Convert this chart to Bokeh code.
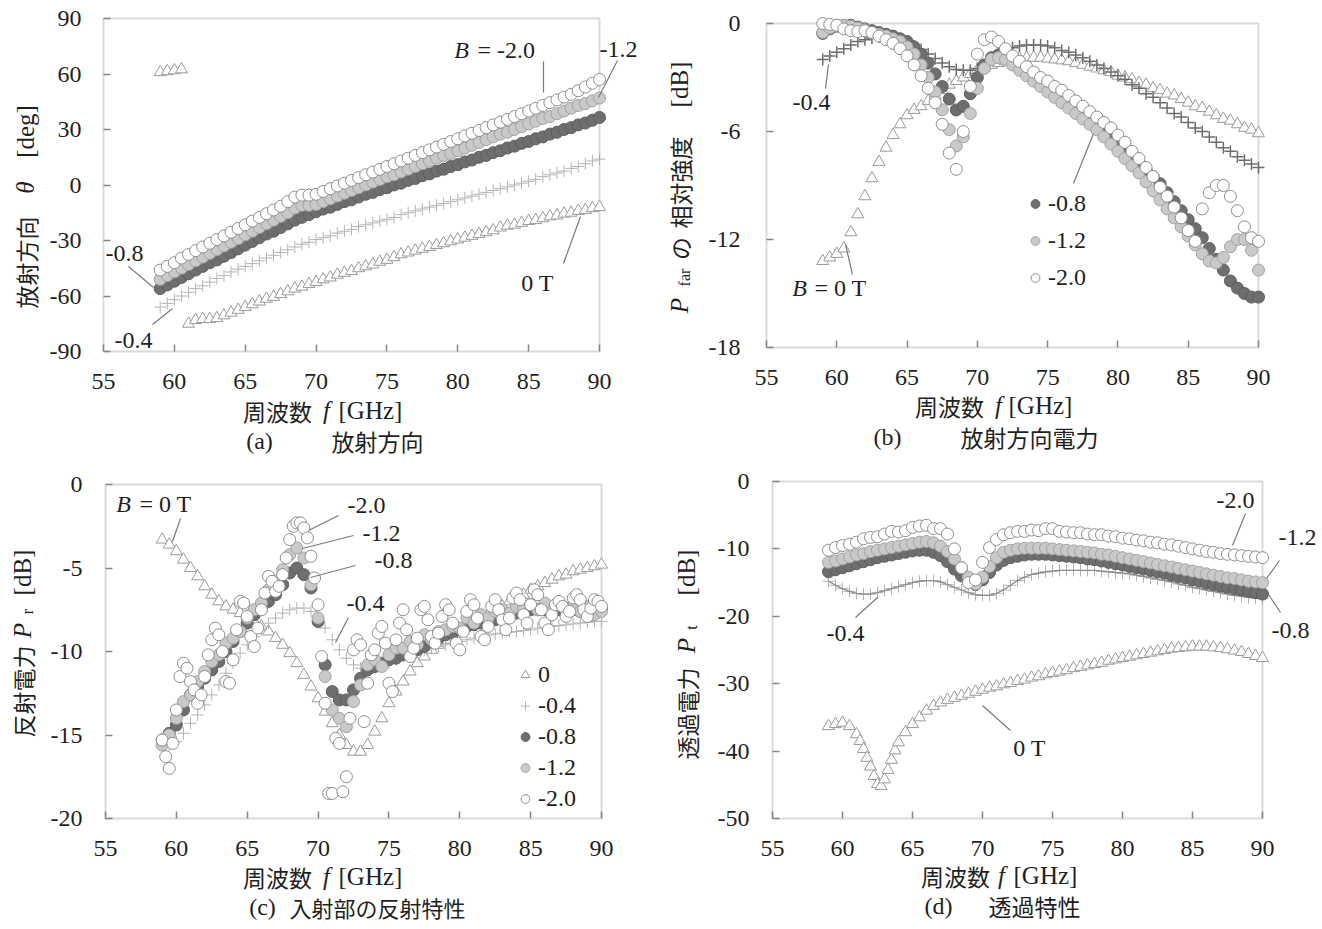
from bokeh.plotting import figure
from bokeh.layouts import column, row
from bokeh.models import (Range1d, FixedTicker, Label, Arrow, Legend, LegendItem,
                          CustomJSTickFormatter, BoxAnnotation)
from bokeh.embed import file_html
from bokeh.resources import INLINE

# ---------------- data ----------------
F05 = [59.0, 59.5, 60.0, 60.5, 61.0, 61.5, 62.0, 62.5, 63.0, 63.5,
       64.0, 64.5, 65.0, 65.5, 66.0, 66.5, 67.0, 67.5, 68.0, 68.5,
       69.0, 69.5, 70.0, 70.5, 71.0, 71.5, 72.0, 72.5, 73.0, 73.5,
       74.0, 74.5, 75.0, 75.5, 76.0, 76.5, 77.0, 77.5, 78.0, 78.5,
       79.0, 79.5, 80.0, 80.5, 81.0, 81.5, 82.0, 82.5, 83.0, 83.5,
       84.0, 84.5, 85.0, 85.5, 86.0, 86.5, 87.0, 87.5, 88.0, 88.5,
       89.0, 89.5, 90.0]

# (a) radiation direction theta [deg]
A_0 = [61, 61.5, 62, 62.5, -75, -73, -72.5, -72.5, -72, -70.5,
       -69, -67.5, -66, -64.5, -63, -61.5, -60.5, -59, -57.5, -56,
       -55, -53.5, -52.5, -51, -50, -48.5, -47.5, -46.5, -45, -44,
       -43, -41.5, -40.5, -39, -37.5, -36.5, -35.5, -34.5, -33.5, -32.5,
       -31.5, -30.5, -29.5, -28.5, -27.5, -26.5, -25.5, -24.5, -23, -22,
       -21.5, -20.5, -19.5, -19, -18, -17, -16.5, -15.5, -15, -14,
       -13.5, -12.5, -12]
A_04 = [-66, -64, -62, -60, -58, -56, -54.5, -52.5, -50.5, -49,
        -47, -45.5, -44, -42.5, -41, -39.5, -38, -36.5, -35, -33.5,
        -32, -31, -29.5, -28.5, -27.5, -26, -25, -24, -22.5, -21.5,
        -20.5, -19.5, -18.5, -17.5, -16, -15, -14, -13, -12, -11,
        -10, -9, -8, -7, -6, -5, -4, -3, -2, -1,
        0, 1, 2, 3, 4.5, 5.5, 6.5, 7.5, 9, 10,
        11.5, 13, 14]
A_08 = [-56, -54, -52, -50, -48, -46, -44, -42, -40.5, -38.5,
        -36.5, -34.5, -32.5, -30.5, -28.5, -26.5, -25, -23, -21, -19,
        -17.5, -16, -14.5, -13, -12, -10.5, -9, -8, -6.5, -5,
        -4, -2.5, -1.5, 0, 1, 2.5, 3.5, 5, 6, 7.5,
        8.5, 10, 11, 12.5, 13.5, 15, 16, 17.5, 18.5, 20,
        21, 22.5, 23.5, 25, 26, 27.5, 28.5, 30, 31, 32.5,
        33.5, 35, 36.5]
A_12 = [-51, -49, -47, -45, -43, -41, -39, -37, -35, -33,
        -31, -29, -27, -25, -23, -21, -19, -17, -15, -12.5,
        -11, -11, -10.5, -9, -7.5, -6, -4.5, -3, -1.5, 0,
        1.5, 3, 4.5, 5.5, 7, 8.5, 10, 11.5, 13, 14.5,
        16, 17, 18.5, 20, 21.5, 23, 24.5, 26, 27.5, 28.5,
        30, 31.5, 33, 34.5, 36, 37, 38.5, 40, 41.5, 43,
        44, 45.5, 47]
A_20 = [-46, -44, -42, -39.5, -37.5, -35.5, -33.5, -31.5, -29.5, -27.5,
        -25.5, -23.5, -21.5, -19.5, -17.5, -15.5, -13.5, -11.5, -9, -6.5,
        -5.5, -5.5, -5, -3.5, -2, -0.5, 1, 2.5, 4, 5.5,
        7, 8.5, 10, 11.5, 13, 14.5, 16, 17.5, 19, 20.5,
        22, 23.5, 25, 26.5, 28, 29.5, 31, 32.5, 34, 35.5,
        37, 38.5, 40, 41.5, 43, 44.5, 46, 47.5, 49, 51,
        53, 55, 57]

# (b) relative power in radiation direction [dB]
B_0 = [-13.2, -13.0, -12.8, -12.5, -11.6, -10.6, -9.6, -8.6, -7.7, -6.9,
       -6.2, -5.6, -5.1, -4.8, -4.6, -4.3, -4.0, -3.7, -3.4, -3.2,
       -3.0, -2.8, -2.6, -2.4, -2.3, -2.2, -2.1, -2.0, -1.95, -1.9,
       -1.9, -1.9, -1.95, -2.0, -2.05, -2.1, -2.2, -2.3, -2.4, -2.5,
       -2.6, -2.7, -2.9, -3.0, -3.1, -3.3, -3.4, -3.6, -3.7, -3.9,
       -4.0, -4.2, -4.4, -4.6, -4.7, -4.9, -5.1, -5.3, -5.4, -5.6,
       -5.8, -5.9, -6.1]
B_04 = [-2.0, -1.8, -1.6, -1.4, -1.2, -1.0, -0.9, -0.8, -0.75, -0.75,
        -0.8, -0.9, -1.05, -1.25, -1.45, -1.7, -1.95, -2.2, -2.4, -2.55,
        -2.6, -2.6, -2.5, -2.3, -2.0, -1.7, -1.5, -1.35, -1.25, -1.2,
        -1.2, -1.2, -1.25, -1.35, -1.5, -1.6, -1.75, -1.9, -2.1, -2.3,
        -2.5, -2.7, -2.9, -3.1, -3.4, -3.6, -3.9, -4.1, -4.4, -4.7,
        -5.0, -5.2, -5.5, -5.8, -6.0, -6.3, -6.6, -6.9, -7.1, -7.4,
        -7.6, -7.8, -8.0]
B_08 = [-0.55, -0.3, -0.15, -0.1, -0.1, -0.2, -0.3, -0.4, -0.5, -0.6,
        -0.7, -0.85, -1.0, -1.3, -1.7, -2.2, -2.8, -3.5, -4.2, -4.8,
        -4.6, -3.9, -3.0, -2.3, -1.9, -1.75, -1.8, -2.0, -2.3, -2.6,
        -2.9, -3.1, -3.4, -3.7, -4.0, -4.3, -4.6, -4.9, -5.2, -5.5,
        -5.8, -6.1, -6.5, -6.9, -7.3, -7.7, -8.1, -8.5, -8.9, -9.4,
        -9.9, -10.4, -10.9, -11.4, -11.9, -12.5, -13.1, -13.7, -14.3, -14.7,
        -15.0, -15.2, -15.2]
B_12 = [-0.5, -0.25, -0.1, -0.1, -0.15, -0.25, -0.35, -0.5, -0.6, -0.7,
        -0.85, -1.0, -1.3, -1.7, -2.3, -3.0, -3.8, -4.8, -5.9, -6.8,
        -6.3, -5.0, -3.6, -2.5, -2.0, -1.9, -2.0, -2.3, -2.6, -2.9,
        -3.2, -3.5, -3.8, -4.1, -4.4, -4.7, -5.0, -5.3, -5.6, -5.9,
        -6.3, -6.7, -7.1, -7.5, -7.9, -8.3, -8.8, -9.3, -9.8, -10.3,
        -10.8, -11.3, -11.8, -12.3, -12.8, -13.2, -13.3, -13.0, -12.4, -12.0,
        -12.0, -12.6, -13.7]
B_20 = [0.0, -0.05, -0.1, -0.3, -0.4, -0.45, -0.4, -0.5, -0.7, -0.9,
        -1.1, -1.4, -1.8, -2.3, -2.9, -3.6, -4.4, -5.6, -7.2, -8.1,
        -6.0, -3.5, -1.7, -0.9, -0.75, -1.0, -1.4, -1.8, -2.1, -2.4,
        -2.7, -3.0, -3.2, -3.5, -3.7, -4.0, -4.3, -4.6, -4.9, -5.2,
        -5.5, -5.8, -6.2, -6.6, -7.1, -7.5, -8.0, -8.5, -9.1, -9.6,
        -10.2, -10.8, -11.5, -12.1, -10.3, -9.4, -9.0, -9.0, -9.6, -10.4,
        -11.3, -11.9, -12.1]

# (c) reflected power Pr [dB]
C_0 = [-3.3, -3.6, -4.0, -4.5, -5.0, -5.5, -6.1, -6.6, -7.0, -7.3,
       -7.5, -7.7, -7.9, -8.2, -8.5, -8.8, -9.2, -9.6, -10.1, -10.7,
       -11.4, -12.1, -12.8, -13.6, -14.3, -15.0, -15.6, -16.0, -16.0, -15.6,
       -14.8, -14.0, -13.1, -12.4, -11.8, -11.2, -10.7, -10.3, -9.9, -9.6,
       -9.3, -9.0, -8.8, -8.5, -8.3, -8.0, -7.8, -7.5, -7.3, -7.0,
       -6.8, -6.6, -6.3, -6.1, -5.9, -5.7, -5.5, -5.4, -5.2, -5.1,
       -5.0, -4.9, -4.8]
C_04 = [-15.7, -15.6, -15.4, -14.9, -14.3, -13.8, -13.2, -12.6, -12.0, -11.3,
        -10.7, -10.1, -9.6, -9.1, -8.7, -8.3, -8.0, -7.7, -7.5, -7.4,
        -7.4, -7.6, -8.0, -8.6, -9.3, -9.9, -10.4, -10.8, -11.0, -11.1,
        -11.0, -10.9, -10.7, -10.5, -10.3, -10.2, -10.0, -9.9, -9.8, -9.7,
        -9.6, -9.5, -9.4, -9.3, -9.2, -9.1, -9.0, -8.95, -8.9, -8.85,
        -8.8, -8.75, -8.7, -8.6, -8.55, -8.5, -8.45, -8.4, -8.35, -8.3,
        -8.25, -8.2, -8.2]
C_08 = [-15.3, -14.9, -14.4, -13.5, -12.6, -12.1, -11.6, -11.1, -10.6, -10.0,
        -9.4, -8.8, -8.3, -7.8, -7.4, -7.0, -6.6, -6.0, -5.3, -5.0,
        -5.4, -6.2, -8.2, -10.8, -12.4, -12.9, -12.9, -12.3, -11.6, -11.1,
        -10.9, -10.7, -10.5, -10.4, -10.2, -10.0, -9.9, -9.7, -9.4, -9.2,
        -9.0, -8.9, -8.7, -8.5, -8.4, -8.3, -8.2, -8.1, -8.0, -7.9,
        -7.7, -7.6, -7.5, -7.5, -7.5, -7.4, -7.5, -7.4, -7.5, -7.6,
        -7.5, -7.5, -7.4]
C_12 = [-15.6, -15.0, -14.0, -13.0, -12.6, -11.8, -11.2, -10.6, -10.2, -9.5,
        -9.2, -8.8, -8.0, -7.5, -7.1, -6.3, -5.8, -5.1, -4.2, -3.8,
        -4.4, -6.0, -8.0, -11.5, -13.5, -14.0, -14.5, -13.0, -12.0, -10.8,
        -10.5, -10.9, -10.2, -9.8, -9.8, -9.4, -9.6, -9.0, -9.3, -8.8,
        -8.7, -8.5, -8.6, -8.0, -8.3, -7.8, -8.0, -7.6, -7.5, -7.7,
        -7.3, -7.4, -7.2, -7.5, -7.1, -7.6, -7.2, -7.5, -7.3, -7.6,
        -7.3, -7.8, -7.6]
C20_F = [59.0, 59.25, 59.5, 59.75,  60.0, 60.25, 60.5, 60.75,
         61.0, 61.25, 61.5, 61.75,  62.0, 62.25, 62.5, 62.75,
         63.0, 63.25, 63.5, 63.75,  64.0, 64.25, 64.5, 64.75,
         65.0, 65.25, 65.5, 65.75,  66.0, 66.25, 66.5, 66.75,
         67.0, 67.25, 67.5, 67.75,  68.0, 68.25, 68.5, 68.75,
         69.0, 69.25, 69.5, 69.75,  70.0, 70.25, 70.5, 70.75,
         71.0, 71.25, 71.5, 71.75,  72.0, 72.25, 72.5, 72.75,
         73.0, 73.25, 73.5, 73.75,  74.0, 74.25, 74.5, 74.75,
         75.0, 75.25, 75.5, 75.75,  76.0, 76.25, 76.5, 76.75,
         77.0, 77.25, 77.5, 77.75,  78.0, 78.25, 78.5, 78.75,
         79.0, 79.25, 79.5, 79.75,  80.0, 80.25, 80.5, 80.75,
         81.0, 81.25, 81.5, 81.75,  82.0, 82.25, 82.5, 82.75,
         83.0, 83.25, 83.5, 83.75,  84.0, 84.25, 84.5, 84.75,
         85.0, 85.25, 85.5, 85.75,  86.0, 86.25, 86.5, 86.75,
         87.0, 87.25, 87.5, 87.75,  88.0, 88.25, 88.5, 88.75,
         89.0, 89.25, 89.5, 89.75,  90.0]
C_20 = [-15.3, -16.3, -17.0, -15.5,  -13.5, -11.5, -10.7, -11.0,
        -11.8, -12.3, -13.1, -12.6,  -11.5, -10.2, -9.3, -8.6,
        -9.0, -10.0, -11.8, -11.9,  -10.5, -8.7, -7.0, -7.1,
        -7.9, -9.1, -9.7, -8.6,  -7.5, -6.5, -5.5, -5.8,
        -6.4, -6.1, -5.4, -4.4,  -3.3, -2.5, -2.3, -2.3,
        -2.6, -3.2, -4.3, -5.6,  -7.2, -10.3, -13.1, -18.5,
        -18.5, -15.2, -15.5, -18.4,  -17.5, -14.0, -9.9, -9.3,
        -9.6, -14.2, -11.9, -10.2,  -9.9, -8.9, -8.5, -9.5,
        -11.9, -12.4, -9.3, -8.3,  -7.5, -8.7, -10.3, -9.8,
        -9.2, -7.5, -7.3, -8.1,  -9.1, -9.5, -8.9, -7.9,
        -7.2, -7.5, -8.3, -9.5,  -9.9, -8.8, -7.6, -6.9,
        -7.2, -8.0, -9.1, -9.3,  -8.5, -7.3, -6.9, -7.5,
        -8.1, -8.7, -8.0, -6.8,  -6.5, -6.9, -7.8, -8.3,
        -7.2, -6.3, -6.6, -7.5,  -8.3, -8.7, -7.8, -7.2,
        -7.0, -7.3, -7.9, -7.6,  -6.8, -6.6, -6.9, -7.5,
        -7.9, -7.4, -6.9, -7.0,  -7.3]

# (d) transmitted power Pt [dB]
D0_F = [59.0, 59.5, 60.0, 60.5, 61.0, 61.25, 61.5, 61.75, 62.0, 62.25,
        62.5, 62.75, 63.0, 63.25, 63.5, 63.75, 64.0, 64.5, 65.0, 65.5,
        66.0, 66.5, 67.0, 67.5, 68.0, 68.5, 69.0, 69.5, 70.0, 70.5,
        71.0, 71.5, 72.0, 72.5, 73.0, 73.5, 74.0, 74.5, 75.0, 75.5,
        76.0, 76.5, 77.0, 77.5, 78.0, 78.5, 79.0, 79.5, 80.0, 80.5,
        81.0, 81.5, 82.0, 82.5, 83.0, 83.5, 84.0, 84.5, 85.0, 85.5,
        86.0, 86.5, 87.0, 87.5, 88.0, 88.5, 89.0, 89.5, 90.0]
D_0 = [-36.3, -36.0, -35.8, -36.3, -37.5, -38.5, -39.7, -41.0, -42.3, -43.7,
       -44.9, -45.2, -44.2, -42.8, -41.3, -39.9, -38.7, -37.2, -36.0, -35.0,
       -34.0, -33.3, -32.8, -32.4, -32.1, -31.8, -31.5, -31.2, -30.9, -30.6,
       -30.4, -30.1, -29.9, -29.6, -29.4, -29.1, -28.9, -28.6, -28.4, -28.2,
       -28.0, -27.7, -27.5, -27.3, -27.1, -26.9, -26.6, -26.4, -26.2, -26.0,
       -25.8, -25.6, -25.4, -25.2, -25.0, -24.8, -24.7, -24.6, -24.5, -24.5,
       -24.5, -24.6, -24.7, -24.9, -25.1, -25.3, -25.6, -25.9, -26.2]
D_04 = [-14.8, -15.4, -15.9, -16.3, -16.6, -16.7, -16.7, -16.5, -16.2, -15.9,
        -15.6, -15.3, -15.0, -14.8, -14.7, -14.7, -14.9, -15.3, -15.7, -16.1,
        -16.5, -16.8, -16.9, -16.9, -16.6, -16.1, -15.4, -14.7, -14.2, -13.8,
        -13.6, -13.4, -13.3, -13.2, -13.2, -13.2, -13.2, -13.2, -13.2, -13.3,
        -13.4, -13.5, -13.6, -13.7, -13.9, -14.1, -14.3, -14.5, -14.7, -14.9,
        -15.2, -15.4, -15.7, -15.9, -16.1, -16.3, -16.5, -16.7, -16.9, -17.0,
        -17.2, -17.3, -17.4]
D_08 = [-13.4, -13.1, -12.8, -12.5, -12.2, -11.9, -11.6, -11.3, -11.1, -10.9,
        -10.7, -10.5, -10.3, -10.2, -10.2, -10.5, -11.0, -11.9, -13.0, -14.0,
        -14.9, -15.3, -14.6, -13.5, -12.4, -11.7, -11.3, -11.1, -10.9, -10.8,
        -10.8, -10.8, -10.9, -11.0, -11.1, -11.2, -11.3, -11.5, -11.6, -11.8,
        -12.0, -12.2, -12.4, -12.6, -12.8, -13.0, -13.2, -13.4, -13.6, -13.9,
        -14.1, -14.3, -14.6, -14.8, -15.1, -15.3, -15.5, -15.7, -15.9, -16.1,
        -16.3, -16.5, -16.7]
D_12 = [-12.0, -11.8, -11.5, -11.2, -10.9, -10.7, -10.4, -10.2, -10.0, -9.8,
        -9.6, -9.4, -9.2, -9.0, -8.9, -9.1, -9.6, -10.4, -11.5, -12.8,
        -14.2, -15.2, -14.2, -12.6, -11.3, -10.5, -10.2, -10.0, -9.9, -9.9,
        -9.9, -9.9, -10.0, -10.1, -10.2, -10.3, -10.4, -10.5, -10.6, -10.8,
        -10.9, -11.1, -11.3, -11.5, -11.7, -11.9, -12.1, -12.3, -12.5, -12.7,
        -12.9, -13.1, -13.3, -13.5, -13.7, -13.9, -14.1, -14.3, -14.4, -14.6,
        -14.8, -14.9, -15.0]
D_20 = [-10.2, -9.8, -9.5, -9.3, -9.0, -8.5, -8.3, -8.2, -7.8, -7.4,
        -7.5, -7.3, -6.8, -6.6, -6.5, -7.0, -7.0, -7.8, -10.0, -12.8,
        -15.0, -14.6, -12.0, -9.8, -8.6, -7.9, -7.6, -7.4, -7.4, -7.2,
        -7.3, -7.0, -7.0, -7.4, -7.5, -7.6, -7.6, -7.8, -7.9, -7.9,
        -8.1, -8.2, -8.4, -8.5, -8.7, -8.8, -9.0, -9.1, -9.3, -9.4,
        -9.6, -9.8, -10.0, -10.2, -10.4, -10.5, -10.7, -10.8, -10.9, -11.0,
        -11.1, -11.2, -11.3]

X_TICKS = [55, 60, 65, 70, 75, 80, 85, 90]
A_TICKS = [-90, -60, -30, 0, 30, 60, 90]
B_TICKS = [-18, -12, -6, 0]
C_TICKS = [-20, -15, -10, -5, 0]
D_TICKS = [-50, -40, -30, -20, -10, 0]
LEG_B = ["-0.8", "-1.2", "-2.0"]
LEG_C = ["0", "-0.4", "-0.8", "-1.2", "-2.0"]

# ---------------- styling ----------------
SERIF = "Liberation Serif"
CJK = "Noto Sans CJK JP"
TXT = "#1f1f1f"
FRAME = "#868686"
LEAD = "#7a7a7a"


def make_fig(s):
    """Figure whose frame fills the whole canvas; the plot box (55..90 x y0..y1)
    sits inside it at the reference position, axes fixed at its edges."""
    L, R, T, B = s["L"], s["R"], s["T"], s["B"]
    ox, oy, w, h = s["ox"], s["oy"], s["w"], s["h"]
    kx = 35.0 / (R - L)
    ky = (s["y1"] - s["y0"]) / (B - T)
    xr = Range1d(55 - (L - ox) * kx, 90 + (ox + w - R) * kx)
    yr = Range1d(s["y0"] - (oy + h - B) * ky, s["y1"] + (T - oy) * ky)
    p = figure(width=w, height=h, x_range=xr, y_range=yr, output_backend="svg",
               toolbar_location=None, title=None, min_border=0,
               min_border_left=0, min_border_right=0, min_border_top=0,
               min_border_bottom=0)
    p.grid.visible = False
    p.outline_line_color = None
    p.background_fill_color = "white"
    p.border_fill_color = "white"
    p.add_layout(BoxAnnotation(left=55, right=90, bottom=s["y0"], top=s["y1"],
                               fill_color=None, fill_alpha=0, line_color=FRAME,
                               line_width=2, level="underlay"))
    xa, ya = p.xaxis[0], p.yaxis[0]
    xa.fixed_location = s["y0"]
    ya.fixed_location = 55
    xa.ticker = FixedTicker(ticks=X_TICKS)
    ya.ticker = FixedTicker(ticks=s["ticks"])
    for ax in (xa, ya):
        ax.formatter = CustomJSTickFormatter(code="return String(tick)")
        ax.axis_line_color = None
        ax.major_tick_in = 7
        ax.major_tick_out = 0
        ax.major_tick_line_color = FRAME
        ax.major_tick_line_width = 1.5
        ax.minor_tick_line_color = None
        ax.major_label_text_font = SERIF
        ax.major_label_text_font_size = "24px"
        ax.major_label_text_color = TXT
    xa.major_label_standoff = 22
    ya.major_label_standoff = s["ystand"]
    return p


def to_data(s, X, Y):
    L, R, T, B = s["L"], s["R"], s["T"], s["B"]
    x = 55 + (X - L) / (R - L) * 35.0
    y = s["y1"] - (Y - T) / (B - T) * (s["y1"] - s["y0"])
    return x, y


def lab(p, s, X, Y, text, size=24, font=SERIF, style="normal", align="center",
        angle=0):
    x, y = to_data(s, X, Y)
    p.add_layout(Label(x=x, y=y, text=text, text_font=font,
                       text_font_size=f"{size}px", text_font_style=style,
                       text_align=align, text_baseline="middle", angle=angle,
                       angle_units="deg", text_color=TXT))


def lead(p, s, X1, Y1, X2, Y2):
    x1, y1 = to_data(s, X1, Y1)
    x2, y2 = to_data(s, X2, Y2)
    p.add_layout(Arrow(end=None, x_start=x1, y_start=y1, x_end=x2, y_end=y2,
                       line_color=LEAD, line_width=1.2))


def draw(p, f, v, kind, cross_color="#b3b3b3", cross_width=1.0):
    if kind == "0":
        return p.scatter(f, v, marker="triangle", size=12, fill_color="white",
                         line_color="#9a9a9a", line_width=1)
    if kind == "-0.4":
        return p.scatter(f, v, marker="cross", size=12, line_color=cross_color,
                         line_width=cross_width)
    if kind == "-0.8":
        return p.scatter(f, v, marker="circle", size=12, fill_color="#6e6e6e",
                         line_color="#5e5e5e", line_width=1)
    if kind == "-1.2":
        return p.scatter(f, v, marker="circle", size=12, fill_color="#c9c9c9",
                         line_color="#a3a3a3", line_width=1)
    return p.scatter(f, v, marker="circle", size=12, fill_color="white",
                     line_color="#8e8e8e", line_width=1)


def xtitle(p, s, Y, xs):
    lab(p, s, xs[0], Y, "周波数", size=23, font=CJK)
    lab(p, s, xs[1], Y, "f", size=25, style="italic")
    lab(p, s, xs[2], Y, "[GHz]", size=25, align="left")


def make_legend(items, loc, spacing):
    return Legend(items=items, location=loc, orientation="vertical",
                  glyph_width=22, glyph_height=25, label_height=25,
                  label_standoff=2, padding=0, margin=0, spacing=spacing,
                  border_line_color=None, background_fill_alpha=0,
                  label_text_font=SERIF, label_text_font_size="24px",
                  label_text_color=TXT)


SA = dict(w=661, h=460, ox=0, oy=0, L=103, R=599, T=18, B=351,
          y0=-90, y1=90, ticks=A_TICKS, ystand=22)
SB = dict(w=661, h=460, ox=661, oy=0, L=766, R=1258, T=23, B=347,
          y0=-18, y1=0, ticks=B_TICKS, ystand=26)
SC = dict(w=661, h=469, ox=0, oy=460, L=105, R=601, T=484, B=818,
          y0=-20, y1=0, ticks=C_TICKS, ystand=23)
SD = dict(w=661, h=469, ox=661, oy=460, L=772, R=1262, T=481, B=818,
          y0=-50, y1=0, ticks=D_TICKS, ystand=23)

# ---------------- (a) ----------------
pa = make_fig(SA)
draw(pa, F05, A_0, "0")
draw(pa, F05, A_04, "-0.4")
draw(pa, F05, A_08, "-0.8")
draw(pa, F05, A_12, "-1.2")
draw(pa, F05, A_20, "-2.0")
lab(pa, SA, 461, 49, "B", style="italic")
lab(pa, SA, 477, 49, "=  -2.0", align="left")
lead(pa, SA, 543, 61, 543, 92)
lab(pa, SA, 618, 49, "-1.2")
lead(pa, SA, 617, 60, 598, 97)
lab(pa, SA, 124, 253, "-0.8")
lead(pa, SA, 128, 266, 153, 287)
lab(pa, SA, 133, 340, "-0.4")
lead(pa, SA, 152, 324, 172, 308)
lab(pa, SA, 540, 282, "0  T")
lead(pa, SA, 563, 263, 580, 216)
xtitle(pa, SA, 410, (277, 326, 338))
lab(pa, SA, 259, 440, "(a)", size=24)
lab(pa, SA, 377, 440, "放射方向", size=23, font=CJK)
lab(pa, SA, 25, 262, "放射方向", size=23, font=CJK, angle=90)
lab(pa, SA, 25, 187, "θ", size=25, style="italic", angle=90)
lab(pa, SA, 25, 131, "[deg]", size=25, angle=90)

# ---------------- (b) ----------------
pb = make_fig(SB)
draw(pb, F05, B_0, "0")
draw(pb, F05, B_04, "-0.4", cross_color="#6c6c6c", cross_width=1.5)
rb08 = draw(pb, F05, B_08, "-0.8")
rb12 = draw(pb, F05, B_12, "-1.2")
rb20 = draw(pb, F05, B_20, "-2.0")
pb.add_layout(make_legend([LegendItem(label=LEG_B[0], renderers=[rb08]),
                           LegendItem(label=LEG_B[1], renderers=[rb12]),
                           LegendItem(label=LEG_B[2], renderers=[rb20])],
                          (1035 - 11 - 661, 460 - 290.5), 10))
lab(pb, SB, 811, 102, "-0.4")
lead(pb, SB, 825, 88, 828, 64)
lab(pb, SB, 799, 287, "B", style="italic")
lab(pb, SB, 814, 287, "=  0  T", align="left")
lead(pb, SB, 852, 274, 845, 244)
lead(pb, SB, 1073, 183, 1093, 133)
xtitle(pb, SB, 405, (949, 998, 1008))
lab(pb, SB, 887, 436, "(b)", size=24)
lab(pb, SB, 1029, 436, "放射方向電力", size=23, font=CJK)
lab(pb, SB, 679, 305, "P", size=25, style="italic", angle=90)
lab(pb, SB, 684, 277, "far", size=16, angle=90)
lab(pb, SB, 679, 248, "の", size=23, font=CJK, angle=90)
lab(pb, SB, 679, 182, "相対強度", size=23, font=CJK, angle=90)
lab(pb, SB, 679, 84, "[dB]", size=25, angle=90)

# ---------------- (c) ----------------
pc = make_fig(SC)
rc0 = draw(pc, F05, C_0, "0")
rc04 = draw(pc, F05, C_04, "-0.4")
rc08 = draw(pc, F05, C_08, "-0.8")
rc12 = draw(pc, F05, C_12, "-1.2")
rc20 = draw(pc, C20_F, C_20, "-2.0")
pc.add_layout(make_legend([LegendItem(label=LEG_C[0], renderers=[rc0]),
                           LegendItem(label=LEG_C[1], renderers=[rc04]),
                           LegendItem(label=LEG_C[2], renderers=[rc08]),
                           LegendItem(label=LEG_C[3], renderers=[rc12]),
                           LegendItem(label=LEG_C[4], renderers=[rc20])],
                          (525 - 11, 929 - 811.5), 4))
lab(pc, SC, 123, 503, "B", style="italic")
lab(pc, SC, 139, 503, "=  0  T", align="left")
lead(pc, SC, 180, 518, 172, 541)
lab(pc, SC, 366, 505, "-2.0")
lead(pc, SC, 338, 515, 308, 530)
lab(pc, SC, 381, 533, "-1.2")
lead(pc, SC, 353, 535, 302, 548)
lab(pc, SC, 393, 560, "-0.8")
lead(pc, SC, 355, 565, 310, 577)
lab(pc, SC, 365, 603, "-0.4")
lead(pc, SC, 348, 617, 335, 642)
xtitle(pc, SC, 876, (277, 326, 338))
lab(pc, SC, 262, 906, "(c)", size=24)
lab(pc, SC, 377, 906, "入射部の反射特性", size=22, font=CJK)
lab(pc, SC, 22, 691, "反射電力", size=23, font=CJK, angle=90)
lab(pc, SC, 22, 630, "P", size=25, style="italic", angle=90)
lab(pc, SC, 27, 611, "r", size=16, angle=90)
lab(pc, SC, 22, 572, "[dB]", size=25, angle=90)

# ---------------- (d) ----------------
pd = make_fig(SD)
draw(pd, D0_F, D_0, "0")
draw(pd, F05, D_04, "-0.4")
pd.line(F05, D_04, line_color="#8a8a8a", line_width=1.3)
draw(pd, F05, D_08, "-0.8")
draw(pd, F05, D_12, "-1.2")
draw(pd, F05, D_20, "-2.0")
lab(pd, SD, 1235, 500, "-2.0")
lead(pd, SD, 1245, 513, 1232, 545)
lab(pd, SD, 1297, 537, "-1.2")
lead(pd, SD, 1279, 560, 1266, 578)
lab(pd, SD, 1290, 630, "-0.8")
lead(pd, SD, 1268, 594, 1280, 612)
lab(pd, SD, 845, 633, "-0.4")
lead(pd, SD, 855, 617, 877, 597)
lab(pd, SD, 1032, 747, "0  T")
lead(pd, SD, 1010, 730, 982, 705)
xtitle(pd, SD, 875, (955, 1001, 1013))
lab(pd, SD, 938, 905, "(d)", size=24)
lab(pd, SD, 1034, 905, "透過特性", size=23, font=CJK)
lab(pd, SD, 686, 713, "透過電力", size=23, font=CJK, angle=90)
lab(pd, SD, 686, 645, "P", size=25, style="italic", angle=90)
lab(pd, SD, 691, 627, "t", size=16, angle=90)
lab(pd, SD, 686, 572, "[dB]", size=25, angle=90)

layout = column(row(pa, pb), row(pc, pd))
open("out.html", "w").write(file_html(layout, INLINE))
